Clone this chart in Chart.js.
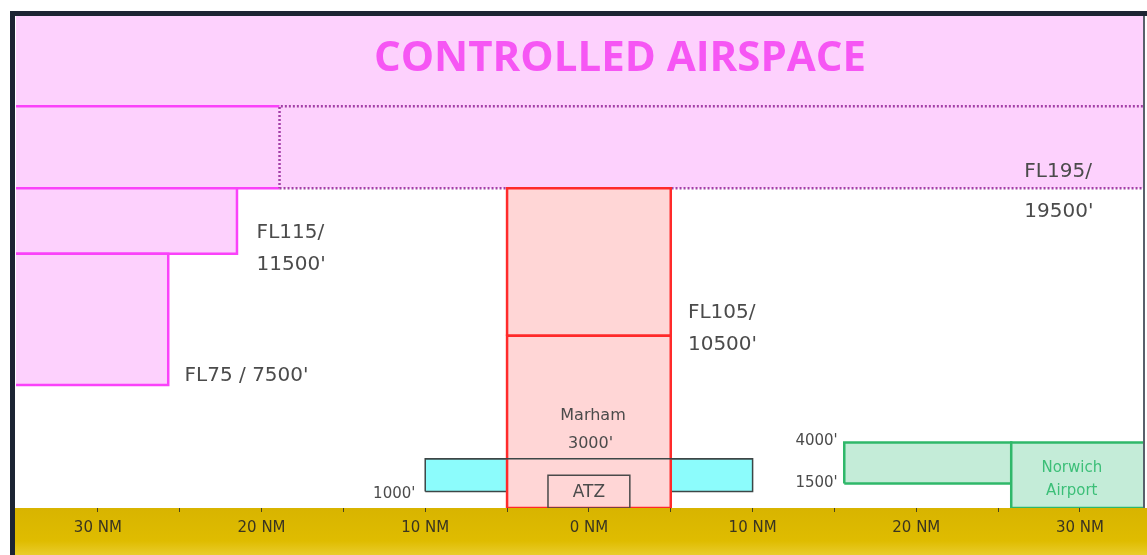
<!DOCTYPE html>
<html>
<head>
<meta charset="utf-8">
<script src="https://cdn.jsdelivr.net/npm/chart.js@4"></script>
<style>
  body { margin: 0; background: #fff; }
  #wrap { width: 1147px; height: 555px; }
</style>
</head>
<body>
<div id="wrap"><canvas id="airspace" width="1147" height="555"></canvas></div>
<script>
// distances in NM from Marham (west negative), heights in ft as drawn
const zoneNames = ['Upper airspace', 'West step high', 'Upper band', 'West step FL115', 'West step FL75',
    'MATZ west', 'MATZ east', 'Marham upper', 'Marham lower', 'ATZ', 'Norwich CTA', 'Norwich CTR'];
const zoneWest = [-36, -36, -18.9, -36, -36, -10, 5, -5, -5, -2.5, 15.6, 25.8];
const zoneEast = [36, -18.9, 36, -21.5, -25.7, -5, 10, 5, 5, 2.5, 25.8, 36];
const zoneBase = [24500, 19500, 19500, 15500, 7500, 1000, 1000, 10500, 0, 0, 1500, 0];
const zoneTop = [31000, 24500, 24500, 19500, 15500, 3000, 3000, 19500, 10500, 2000, 4000, 4000];

const matzLineX = [-10, 10];
const matzLineY = [3000, 3000];

const tickValues = [-30, -25, -20, -15, -10, -5, 0, 5, 10, 15, 20, 25, 30];
const tickLabels = ['30 NM', '', '20 NM', '', '10 NM', '', '0 NM', '', '10 NM', '', '20 NM', '', '30 NM'];

const labelText = ['CONTROLLED AIRSPACE', 'FL195/', "19500'", 'FL115/', "11500'", 'FL105/', "10500'",
    "FL75 / 7500'", 'Marham', "3000'", 'ATZ', "1000'", "4000'", "1500'", 'Norwich', 'Airport'];
const labelX = [1.9, 26.6, 26.6, -20.3, -20.3, 6.05, 6.05, -24.7, 0.25, 0.1, 0, -10.6, 15.2, 15.2, 29.5, 29.5];
const labelY = [27400, 20490, 18050, 16770, 14820, 11890, 9940, 8050, 5610, 3900, 915, 850, 4085, 1520, 2440, 1040];

const PINK = '#fdd1fd', MAGENTA = '#fa42fa', DOTS = '#a43fa8';
const RED = '#ff2a2a', ROSE = '#ffd6d6';
const CYAN = '#8cfcfc', DARK = '#3d4646';
const GREEN = '#2fb86a', MINT = '#c4ecd8';

const zoneStyle = [
    { fill: PINK, line: PINK, width: 0 },
    { fill: PINK, line: MAGENTA, width: 2.5, open: true },
    { fill: PINK, line: DOTS, width: 2.5, dash: [2, 2] },
    { fill: PINK, line: MAGENTA, width: 2.5 },
    { fill: PINK, line: MAGENTA, width: 2.5 },
    { fill: CYAN, line: DARK, width: 1.5 },
    { fill: CYAN, line: DARK, width: 1.5 },
    { fill: ROSE, line: RED, width: 2.5 },
    { fill: ROSE, line: RED, width: 2.5 },
    { fill: 'rgba(0,0,0,0)', line: '#4a4a4a', width: 1.5 },
    { fill: MINT, line: GREEN, width: 2.5 },
    { fill: MINT, line: GREEN, width: 2.5 }
];

const big = '20px "DejaVu Sans"', mid = '15px "DejaVu Sans"', grey = '#4b4b4b';
const labelStyle = [
    { font: 'bold 42px "Open Sans"', color: '#f656f4', align: 'center' },
    { font: big, color: grey, align: 'left' }, { font: big, color: grey, align: 'left' },
    { font: big, color: grey, align: 'left' }, { font: big, color: grey, align: 'left' },
    { font: big, color: grey, align: 'left' }, { font: big, color: grey, align: 'left' },
    { font: big, color: grey, align: 'left' },
    { font: '16px "DejaVu Sans"', color: grey, align: 'center' },
    { font: '16px "DejaVu Sans"', color: grey, align: 'center' },
    { font: '17px "DejaVu Sans"', color: grey, align: 'center' },
    { font: mid, color: grey, align: 'right' },
    { font: mid, color: grey, align: 'right' },
    { font: mid, color: grey, align: 'right' },
    { font: '15px "DejaVu Sans"', color: '#3cbf78', align: 'center' },
    { font: '15px "DejaVu Sans"', color: '#3cbf78', align: 'center' }
];

function rectPoints(i) {
    const w = zoneWest[i], e = zoneEast[i], b = zoneBase[i], t = zoneTop[i];
    if (zoneStyle[i].open) return [{ x: e, y: t }, { x: w, y: t }, { x: w, y: b }, { x: e, y: b }];
    return [{ x: w, y: b }, { x: e, y: b }, { x: e, y: t }, { x: w, y: t }, { x: w, y: b }];
}

const datasets = zoneNames.map((name, i) => ({
    label: name,
    data: rectPoints(i),
    showLine: true,
    fill: 'shape',
    backgroundColor: zoneStyle[i].fill,
    borderColor: zoneStyle[i].line,
    borderWidth: zoneStyle[i].width,
    borderDash: zoneStyle[i].dash || [],
    borderJoinStyle: 'miter',
    pointRadius: 0,
    tension: 0
}));
// MATZ top edge runs across the Marham box, insert it after 'Marham lower'
datasets.splice(9, 0, {
    label: 'MATZ top',
    data: matzLineX.map((x, i) => ({ x, y: matzLineY[i] })),
    showLine: true,
    fill: false,
    borderColor: DARK,
    borderWidth: 1.5,
    pointRadius: 0
});
// first dataset at the bottom of the stack
datasets.forEach((d, i) => { d.order = datasets.length - i; });

const groundBand = {
    id: 'groundBand',
    afterDatasetsDraw(chart) {
        const { ctx, chartArea } = chart;
        const g = ctx.createLinearGradient(0, chartArea.bottom, 0, chart.height);
        g.addColorStop(0, '#d8b400');
        g.addColorStop(0.7, '#dfbc00');
        g.addColorStop(1, '#e9cc2c');
        ctx.save();
        ctx.fillStyle = g;
        ctx.fillRect(14, chartArea.bottom, chart.width - 14, chart.height - chartArea.bottom);
        ctx.restore();
    }
};

const zoneLabels = {
    id: 'zoneLabels',
    afterDraw(chart) {
        const { ctx, scales: { x, y } } = chart;
        ctx.save();
        ctx.textBaseline = 'middle';
        labelText.forEach((txt, i) => {
            ctx.font = labelStyle[i].font;
            ctx.fillStyle = labelStyle[i].color;
            ctx.textAlign = labelStyle[i].align;
            ctx.fillText(txt, x.getPixelForValue(labelX[i]), y.getPixelForValue(labelY[i]));
        });
        ctx.restore();
    }
};

const frame = {
    id: 'frame',
    afterDraw(chart) {
        const { ctx, chartArea } = chart;
        ctx.save();
        ctx.fillStyle = '#1c2433';
        ctx.fillRect(10, 11, 5, chart.height - 11);
        ctx.fillRect(10, 11, chart.width - 10, 5);
        ctx.fillStyle = '#59606b';
        ctx.fillRect(1143, 16, 2, chartArea.bottom - 16);
        ctx.restore();
    }
};

new Chart(document.getElementById('airspace'), {
    type: 'scatter',
    data: { datasets },
    options: {
        responsive: false,
        animation: false,
        layout: { padding: { left: 16, top: 16, right: 4, bottom: 0 } },
        plugins: { legend: { display: false }, tooltip: { enabled: false } },
        scales: {
            x: {
                type: 'linear',
                min: -35,
                max: 33.85,
                afterBuildTicks: axis => { axis.ticks = tickValues.map(v => ({ value: v })); },
                afterFit: axis => { axis.height = 47; },
                border: { display: false, z: 1 },
                grid: { drawOnChartArea: false, drawTicks: true, tickLength: 4, color: '#4a4420', lineWidth: 1, z: 1 },
                ticks: {
                    z: 1,
                    autoSkip: false,
                    maxRotation: 0,
                    padding: 7,
                    color: '#3a3520',
                    font: { family: 'DejaVu Sans', size: 15 },
                    callback: (v, i) => tickLabels[i]
                }
            },
            y: {
                type: 'linear',
                min: 0,
                max: 30000,
                display: false
            }
        }
    },
    plugins: [groundBand, zoneLabels, frame]
});
</script>
</body>
</html>
